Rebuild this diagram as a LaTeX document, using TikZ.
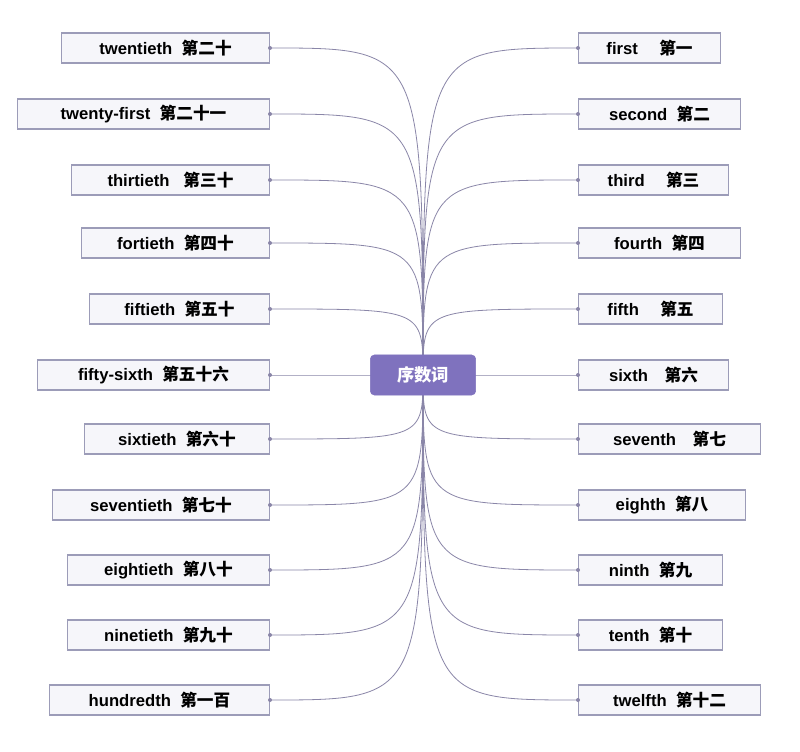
\documentclass[tikz,border=0pt]{standalone}
\usepackage{fontspec}
\setmainfont{Liberation Sans}
\newfontfamily\cjk{Noto Sans CJK SC}
\usetikzlibrary{backgrounds}
\definecolor{edge}{HTML}{8A86A8}
\definecolor{boxfill}{HTML}{F6F6FA}
\definecolor{boxline}{HTML}{9C9CB8}
\definecolor{hub}{HTML}{7F72BE}
\tikzset{
 item/.style={draw=boxline,fill=boxfill,line width=0.8pt,minimum height=22.5pt,inner sep=0pt,font=\bfseries\fontsize{12.5}{14}\selectfont},
 link/.style={edge,line width=0.6pt},
 hubbox/.style={draw=hub,fill=hub,rounded corners=3pt,minimum width=79pt,minimum height=30pt,text=white,font=\cjk\bfseries\fontsize{13}{15}\selectfont},
 dot/.style={circle,fill=edge,inner sep=0pt,minimum size=3pt}
}
\begin{document}
\begin{tikzpicture}[x=0.75pt,y=-0.75pt]
\useasboundingbox (0,0) rectangle (800,752);
\begin{scope}[on background layer]
\fill[white] (0,0) rectangle (800,752);
\end{scope}
\node[hubbox] (c) at (423,375) {序数词};
\foreach \y/\lx/\t [count=\i] in {
 48/62/{twentieth\ \ {\cjk 第二十}},
 114/18/{twenty-first\ \ {\cjk 第二十一}},
 180/72/{thirtieth\ \ \ {\cjk 第三十}},
 243/82/{fortieth\ \ {\cjk 第四十}},
 309/90/{fiftieth\ \ {\cjk 第五十}},
 375/38/{fifty-sixth\ \ {\cjk 第五十六}},
 439/85/{sixtieth\ \ {\cjk 第六十}},
 505/53/{seventieth\ \ {\cjk 第七十}},
 570/68/{eightieth\ \ {\cjk 第八十}},
 635/68/{ninetieth\ \ {\cjk 第九十}},
 700/50/{hundredth\ \ {\cjk 第一百}}} {
 \pgfmathsetmacro\w{(270-\lx)*0.75}
 \node[item,anchor=east,minimum width=\w pt] (L\i) at (270,\y) {\t};
 \node[dot] (LD\i) at (L\i.east) {};
 \begin{scope}[on background layer]
 \draw[link] (c.center) .. controls (423,\y) .. (L\i.east);
 \end{scope}
}
\foreach \y/\rx/\t [count=\i] in {
 48/720/{first\quad\ {\cjk 第一}},
 114/740/{second\ \ {\cjk 第二}},
 180/728/{third\quad\ {\cjk 第三}},
 243/740/{fourth\ \ {\cjk 第四}},
 309/722/{fifth\quad\ {\cjk 第五}},
 375/728/{sixth\quad {\cjk 第六}},
 439/760/{seventh\quad {\cjk 第七}},
 505/745/{eighth\ \ {\cjk 第八}},
 570/722/{ninth\ \ {\cjk 第九}},
 635/722/{tenth\ \ {\cjk 第十}},
 700/760/{twelfth\ \ {\cjk 第十二}}} {
 \pgfmathsetmacro\w{(\rx-578)*0.75}
 \node[item,anchor=west,minimum width=\w pt] (R\i) at (578,\y) {\t};
 \node[dot] (RD\i) at (R\i.west) {};
 \begin{scope}[on background layer]
 \draw[link] (c.center) .. controls (423,\y) .. (R\i.west);
 \end{scope}
}
\end{tikzpicture}
\end{document}
